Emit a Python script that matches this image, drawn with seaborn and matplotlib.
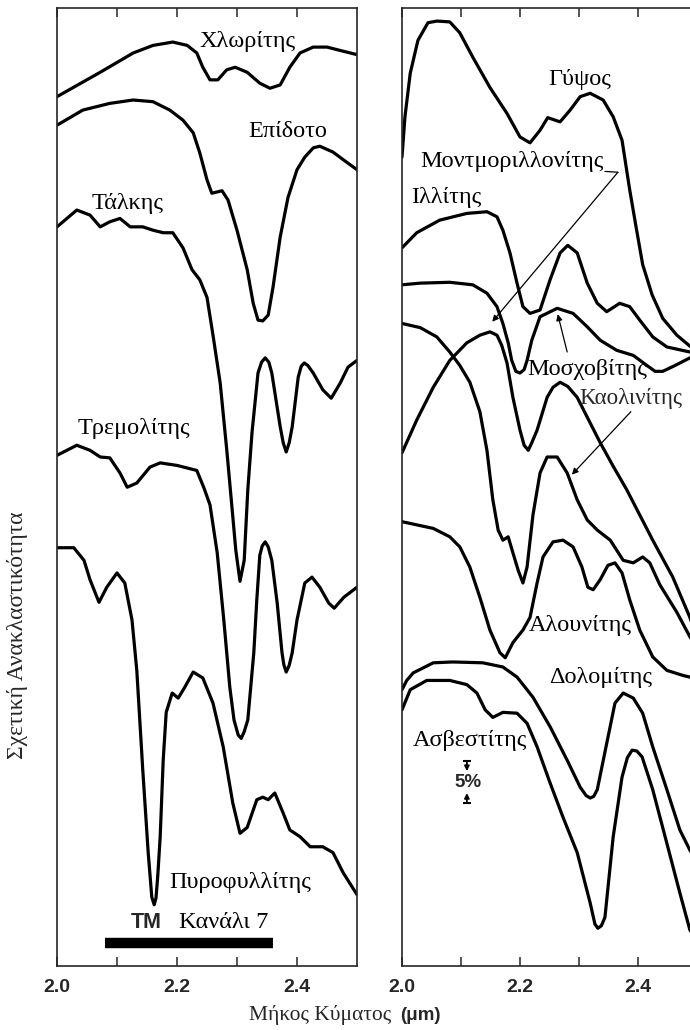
import matplotlib
matplotlib.use("Agg")
import matplotlib.pyplot as plt
import pandas as pd
import seaborn as sns

# ---------------- left panel spectra (wavelength in µm, relative reflectance in %, offset) ----
chlorite_wl = [2.000, 2.072, 2.127, 2.160, 2.193, 2.217, 2.233, 2.243, 2.255, 2.268, 2.283,
               2.297, 2.317, 2.338, 2.355, 2.372, 2.388, 2.405, 2.427, 2.450, 2.472, 2.500]
chlorite_r = [103.5, 106.4, 108.7, 109.6, 110.0, 109.6, 108.7, 107.0, 105.5, 105.5, 106.7,
              107.0, 106.4, 105.1, 104.5, 104.9, 107.0, 108.7, 109.4, 109.4, 109.0, 108.5]

epidote_wl = [2.000, 2.043, 2.088, 2.127, 2.160, 2.188, 2.210, 2.227, 2.238, 2.250, 2.258,
              2.275, 2.285, 2.300, 2.317, 2.327, 2.335, 2.343, 2.352, 2.360, 2.372, 2.385,
              2.400, 2.413, 2.427, 2.438, 2.460, 2.477, 2.500]
epidote_r = [100.1, 101.9, 102.7, 103.1, 102.9, 101.9, 100.7, 99.2, 96.8, 93.6, 92.0,
             92.3, 91.2, 87.6, 82.9, 78.9, 76.9, 76.8, 77.5, 80.8, 86.8, 91.5,
             94.8, 96.3, 97.4, 97.6, 96.9, 96.0, 94.8]

talc_wl = [2.000, 2.033, 2.055, 2.072, 2.088, 2.105, 2.122, 2.143, 2.160, 2.177, 2.193,
           2.210, 2.225, 2.238, 2.250, 2.260, 2.272, 2.283, 2.293, 2.298, 2.305, 2.312,
           2.318, 2.325, 2.335, 2.341, 2.347, 2.353, 2.358, 2.372, 2.377, 2.382, 2.387,
           2.392, 2.402, 2.407, 2.412, 2.418, 2.427, 2.443, 2.457, 2.472, 2.485, 2.500]
talc_r = [88.0, 90.0, 89.4, 88.0, 88.6, 89.0, 88.0, 88.0, 87.6, 87.3, 87.3,
          85.5, 82.9, 81.7, 79.6, 75.1, 69.4, 61.4, 53.5, 49.5, 45.8, 48.3,
          56.7, 63.5, 70.6, 71.9, 72.4, 71.9, 70.6, 64.2, 62.3, 61.2, 62.3,
          64.2, 70.1, 71.4, 71.8, 71.5, 70.6, 68.6, 67.6, 69.4, 71.3, 72.1]

tremolite_wl = [2.000, 2.033, 2.055, 2.072, 2.088, 2.105, 2.117, 2.133, 2.155, 2.172, 2.200,
                2.233, 2.245, 2.255, 2.267, 2.278, 2.288, 2.295, 2.302, 2.307, 2.312, 2.318,
                2.328, 2.333, 2.338, 2.342, 2.347, 2.352, 2.358, 2.367, 2.375, 2.378, 2.382,
                2.387, 2.392, 2.400, 2.413, 2.425, 2.438, 2.453, 2.462, 2.478, 2.500]
tremolite_r = [60.8, 62.0, 61.4, 60.6, 60.5, 58.7, 57.0, 57.5, 59.4, 59.9, 59.6,
               59.0, 56.9, 54.9, 49.2, 41.2, 33.2, 29.3, 27.5, 27.1, 27.9, 29.3,
               37.3, 43.6, 48.9, 50.0, 50.5, 49.9, 48.3, 43.2, 37.3, 35.9, 35.0,
               35.8, 37.3, 41.2, 45.6, 46.3, 45.1, 43.2, 42.6, 43.9, 45.1]

pyrophyllite_wl = [2.000, 2.028, 2.045, 2.055, 2.070, 2.083, 2.100, 2.113, 2.125, 2.133, 2.143,
                   2.152, 2.158, 2.162, 2.165, 2.168, 2.172, 2.177, 2.182, 2.192, 2.202, 2.213,
                   2.227, 2.243, 2.260, 2.277, 2.293, 2.305, 2.317, 2.333, 2.343, 2.352, 2.363,
                   2.377, 2.388, 2.405, 2.422, 2.443, 2.460, 2.477, 2.500]
pyrophyllite_r = [49.8, 49.8, 48.3, 46.0, 43.3, 45.1, 46.8, 45.6, 41.2, 35.2, 23.3,
                  13.5, 8.2, 7.3, 8.1, 10.8, 15.4, 24.5, 30.2, 32.5, 31.9, 33.2,
                  35.0, 34.3, 31.3, 26.1, 19.4, 15.8, 16.5, 19.8, 20.1, 19.8, 20.6,
                  18.2, 16.2, 15.4, 14.2, 14.2, 13.5, 11.1, 8.5]

# ---------------- right panel spectra ----------------
gypsum_wl = [2.000, 2.005, 2.014, 2.027, 2.044, 2.059, 2.081, 2.098, 2.120, 2.149, 2.178,
             2.200, 2.217, 2.234, 2.247, 2.268, 2.285, 2.302, 2.319, 2.341, 2.358, 2.373,
             2.386, 2.397, 2.408, 2.424, 2.442, 2.466, 2.488, 2.500]
gypsum_r = [96.3, 101.1, 106.3, 110.2, 112.3, 112.5, 112.4, 111.1, 108.2, 104.6, 101.5,
            98.7, 98.0, 99.5, 101.0, 100.5, 101.9, 103.5, 103.9, 103.1, 101.1, 98.3,
            92.4, 87.9, 83.5, 79.9, 77.1, 75.1, 73.8, 73.2]

illite_wl = [2.000, 2.025, 2.064, 2.110, 2.144, 2.161, 2.171, 2.183, 2.195, 2.205, 2.217,
             2.234, 2.251, 2.268, 2.281, 2.297, 2.314, 2.331, 2.347, 2.369, 2.386, 2.403,
             2.425, 2.449, 2.488, 2.500]
illite_r = [85.5, 87.3, 88.8, 89.6, 89.8, 89.2, 87.6, 84.9, 81.3, 78.5, 77.7,
            78.1, 81.7, 84.9, 85.8, 84.9, 81.3, 78.9, 77.9, 78.9, 78.5, 76.9,
            74.9, 73.7, 73.1, 72.8]

muscovite_wl = [2.000, 2.031, 2.081, 2.120, 2.144, 2.161, 2.171, 2.180, 2.186, 2.193, 2.200,
                2.207, 2.212, 2.220, 2.234, 2.263, 2.290, 2.314, 2.336, 2.364, 2.392, 2.415,
                2.429, 2.442, 2.463, 2.488, 2.500]
muscovite_r = [81.1, 81.3, 81.4, 81.1, 80.1, 78.5, 76.5, 74.2, 72.1, 70.8, 70.6,
               71.0, 72.1, 74.5, 77.3, 78.3, 77.7, 76.1, 74.5, 73.3, 72.7, 71.5,
               70.8, 70.8, 71.5, 72.4, 72.9]

montmorillonite_wl = [2.000, 2.025, 2.053, 2.081, 2.110, 2.132, 2.149, 2.161, 2.169, 2.178,
                      2.188, 2.200, 2.207, 2.214, 2.220, 2.229, 2.246, 2.256, 2.268, 2.281,
                      2.297, 2.315, 2.336, 2.358, 2.381, 2.403, 2.425, 2.459, 2.488, 2.500]
montmorillonite_r = [61.1, 65.0, 68.9, 72.1, 74.2, 75.1, 75.5, 75.1, 73.9, 71.8,
                     67.7, 63.8, 62.0, 61.4, 62.3, 63.8, 67.7, 68.9, 69.5, 69.0,
                     67.7, 65.2, 62.3, 59.5, 56.7, 53.7, 50.7, 46.3, 41.5, 39.0]

kaolinite_wl = [2.000, 2.031, 2.059, 2.081, 2.098, 2.115, 2.132, 2.144, 2.154, 2.163, 2.171,
                2.180, 2.188, 2.197, 2.205, 2.212, 2.222, 2.234, 2.246, 2.263, 2.280, 2.297,
                2.314, 2.331, 2.353, 2.375, 2.392, 2.408, 2.420, 2.437, 2.466, 2.488, 2.500]
kaolinite_r = [76.5, 76.0, 74.9, 73.1, 71.5, 69.5, 66.0, 61.4, 55.5, 51.9, 50.7,
               51.1, 49.2, 47.1, 45.6, 47.5, 53.7, 58.7, 60.6, 60.6, 58.7, 55.5,
               53.1, 51.9, 50.7, 48.3, 48.0, 48.7, 48.0, 45.4, 42.1, 39.2, 37.9]

alunite_wl = [2.000, 2.053, 2.081, 2.098, 2.115, 2.132, 2.149, 2.166, 2.175, 2.188, 2.205,
              2.217, 2.229, 2.239, 2.256, 2.273, 2.290, 2.305, 2.315, 2.324, 2.336, 2.349,
              2.361, 2.373, 2.386, 2.403, 2.425, 2.449, 2.476, 2.488, 2.500]
alunite_r = [52.9, 52.1, 51.1, 49.9, 47.5, 43.9, 40.0, 37.3, 36.7, 38.5, 40.0,
             41.5, 45.6, 48.7, 50.5, 50.7, 49.9, 47.5, 45.1, 44.8, 46.0, 47.7,
             48.0, 46.8, 43.6, 40.0, 36.8, 35.2, 34.6, 34.4, 33.8]

dolomite_wl = [2.000, 2.008, 2.019, 2.053, 2.086, 2.137, 2.171, 2.195, 2.222, 2.251, 2.280,
               2.302, 2.312, 2.319, 2.325, 2.331, 2.347, 2.361, 2.375, 2.392, 2.408, 2.425,
               2.449, 2.471, 2.488, 2.500]
dolomite_r = [32.9, 34.0, 34.9, 36.1, 36.2, 36.1, 35.6, 34.4, 32.0, 28.5, 24.5,
              21.3, 20.3, 20.0, 20.2, 21.0, 26.5, 31.3, 32.5, 31.9, 30.1, 26.1,
              21.0, 16.2, 13.8, 12.5]

calcite_wl = [2.000, 2.014, 2.042, 2.081, 2.110, 2.127, 2.141, 2.154, 2.171, 2.195, 2.212,
              2.229, 2.251, 2.273, 2.297, 2.319, 2.327, 2.332, 2.338, 2.344, 2.358, 2.373,
              2.382, 2.390, 2.398, 2.407, 2.425, 2.449, 2.471, 2.488, 2.500]
calcite_r = [30.5, 32.9, 34.0, 34.0, 33.5, 32.5, 30.5, 29.6, 30.2, 30.1, 28.9,
             26.1, 21.8, 17.7, 13.5, 7.5, 5.0, 4.5, 4.8, 5.8, 15.4, 22.5,
             24.8, 25.7, 25.6, 24.9, 21.0, 14.6, 8.7, 4.3, 3.0]

# Landsat TM band 7 range (µm) and scale bar size (%)
tm_band = (2.08, 2.36)
scale_step = 5.0
scale_base = 19.4

left_spectra = {
    "Χλωρίτης": (chlorite_wl, chlorite_r),
    "Επίδοτο": (epidote_wl, epidote_r),
    "Τάλκης": (talc_wl, talc_r),
    "Τρεμολίτης": (tremolite_wl, tremolite_r),
    "Πυροφυλλίτης": (pyrophyllite_wl, pyrophyllite_r),
}
right_spectra = {
    "Γύψος": (gypsum_wl, gypsum_r),
    "Ιλλίτης": (illite_wl, illite_r),
    "Μοσχοβίτης": (muscovite_wl, muscovite_r),
    "Μοντμοριλλονίτης": (montmorillonite_wl, montmorillonite_r),
    "Καολινίτης": (kaolinite_wl, kaolinite_r),
    "Αλουνίτης": (alunite_wl, alunite_r),
    "Δολομίτης": (dolomite_wl, dolomite_r),
    "Ασβεστίτης": (calcite_wl, calcite_r),
}


def to_frame(spectra):
    rows = []
    for name, (wl, r) in spectra.items():
        for w, v in zip(wl, r):
            rows.append({"mineral": name, "wl": w, "refl": v})
    return pd.DataFrame(rows)


sns.set_style("ticks")
plt.rcParams["font.family"] = ["Liberation Serif", "DejaVu Serif"]
plt.rcParams["axes.linewidth"] = 1.2

fig = plt.figure(figsize=(6.9, 10.3), dpi=100)
ax_l = fig.add_axes([0.0826, 0.0621, 0.4348, 0.9301])
ax_r = fig.add_axes([0.5826, 0.0621, 0.4275, 0.9301])

line_kw = dict(color="black", linewidth=2.3, estimator=None, legend=False,
               solid_joinstyle="round", solid_capstyle="round")
sns.lineplot(data=to_frame(left_spectra), x="wl", y="refl", units="mineral", ax=ax_l, **line_kw)
sns.lineplot(data=to_frame(right_spectra), x="wl", y="refl", units="mineral", ax=ax_r, **line_kw)

tick_font = dict(family="Liberation Sans", weight="bold", size=14)
for ax in (ax_l, ax_r):
    ax.set_xlim(2.0, 2.5)
    ax.set_ylim(0, 114.05)
    ax.set_xlabel("")
    ax.set_ylabel("")
    ax.set_yticks([])
    ax.set_xticks([2.0, 2.2, 2.4])
    ax.set_xticks([2.1, 2.3], minor=True)
    ax.set_xticklabels(["2.0", "2.2", "2.4"], fontdict=tick_font)
    ax.tick_params(axis="x", which="both", direction="in", top=True, bottom=True,
                   length=6.5, width=1.1, pad=9)
    for s in ax.spines.values():
        s.set_linewidth(1.2)

lab = dict(fontsize=17.5, ha="center", va="center", color="black")

# left panel labels
ax_l.text(2.318, 110.1, "Χλωρίτης", **lab)
ax_l.text(2.385, 99.3, "Επίδοτο", **lab)
ax_l.text(2.117, 90.8, "Τάλκης", **lab)
ax_l.text(2.128, 64.0, "Τρεμολίτης", **lab)
ax_l.text(2.305, 9.9, "Πυροφυλλίτης", **lab)
ax_l.text(2.148, 5.2, "TM", fontsize=15.5, ha="center", va="center",
          family="Liberation Sans", weight="bold")
ax_l.text(2.277, 5.2, "Κανάλι 7", **lab)
ax_l.hlines(2.7, tm_band[0], tm_band[1], color="black", linewidth=7.5, capstyle="butt")

# right panel labels
ax_r.text(2.302, 105.6, "Γύψος", **lab)
ax_r.text(2.186, 95.8, "Μοντμοριλλονίτης", **lab)
ax_r.text(2.075, 91.5, "Ιλλίτης", **lab)
ax_r.text(2.314, 71.0, "Μοσχοβίτης", **lab)
ax_r.text(2.300, 67.6, "Καολινίτης", fontsize=16.5, ha="left", va="center")
ax_r.text(2.302, 40.5, "Αλουνίτης", **lab)
ax_r.text(2.337, 34.3, "Δολομίτης", **lab)
ax_r.text(2.115, 26.9, "Ασβεστίτης", **lab)

arrow = dict(arrowstyle="-|>", color="black", lw=0.9, mutation_scale=9, shrinkA=0, shrinkB=0)
ax_r.annotate("", xy=(2.366, 94.5), xytext=(2.344, 94.6),
              arrowprops=dict(arrowstyle="-", color="black", lw=0.9, shrinkA=0, shrinkB=0))
ax_r.annotate("", xy=(2.153, 76.7), xytext=(2.366, 94.5), arrowprops=arrow)
ax_r.annotate("", xy=(2.264, 77.6), xytext=(2.280, 73.1), arrowprops=arrow)
ax_r.annotate("", xy=(2.288, 58.5), xytext=(2.388, 66.0), arrowprops=arrow)

# 5 % scale bar
sx = 2.110
top = scale_base + scale_step
small = dict(arrowstyle="-|>", color="black", lw=1.3, mutation_scale=7, shrinkA=0, shrinkB=0)
ax_r.hlines([top, scale_base], sx - 0.007, sx + 0.007, color="black", linewidth=1.5)
ax_r.annotate("", xy=(sx, top - 1.2), xytext=(sx, top), arrowprops=small)
ax_r.annotate("", xy=(sx, scale_base + 1.2), xytext=(sx, scale_base), arrowprops=small)
ax_r.text(sx + 0.002, scale_base + scale_step / 2, "5%", fontsize=13.5, ha="center",
          va="center", family="Liberation Sans", weight="bold")

# axis titles
fig.text(0.026, 1 - 635 / 1030, "Σχετική Ανακλαστικότητα", rotation=90,
         ha="center", va="center", fontsize=17)
fig.text(397 / 690, 1 - 1015 / 1030, "Μήκος Κύματος ", ha="right", va="center",
         fontsize=15.5)
fig.text(400 / 690, 1 - 1015 / 1030, "(μm)", ha="left", va="center", fontsize=13.5,
         family="Liberation Sans", weight="bold")

fig.savefig("out.png", dpi=100)
